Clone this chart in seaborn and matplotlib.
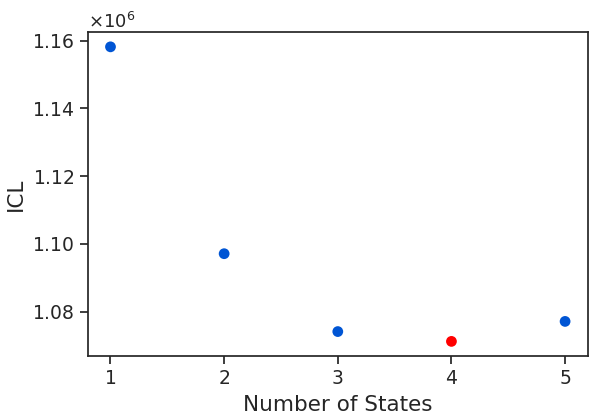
import numpy as np
import pandas as pd
import matplotlib
matplotlib.use("Agg")
import matplotlib.pyplot as plt
import matplotlib.ticker as mticker
import seaborn as sns

# --- Data ---
n_states = [1, 2, 3, 4, 5]
icl = [1158200, 1097100, 1074100, 1071200, 1077100]
best = 4

df = pd.DataFrame({"n_states": n_states, "icl": icl})
df["is_best"] = df["n_states"] == best

# --- Plot ---
sns.set_theme(style="ticks")
plt.rcParams["font.family"] = ["DejaVu Sans"]

fig = plt.figure(figsize=(5.89, 4.17), dpi=100)
ax = fig.add_axes([0.149, 0.146, 0.849, 0.777])

sns.scatterplot(data=df, x="n_states", y="icl", hue="is_best",
                palette={False: "#0055d4", True: "#ff0000"},
                s=60, linewidth=0, legend=False, ax=ax)

ax.set_xticks(n_states)
fmt = mticker.ScalarFormatter(useMathText=True)
ax.yaxis.set_major_formatter(fmt)
ax.set_xlabel("Number of States", fontsize=15.5, color="#262626", labelpad=5)
ax.set_ylabel("ICL", fontsize=15.5, color="#262626")
ax.tick_params(labelsize=13.5, length=6, width=1.25, colors="#262626")
ax.yaxis.get_offset_text().set_fontsize(13)
for sp in ax.spines.values():
    sp.set_linewidth(1.25)
    sp.set_color("#262626")

fig.savefig("out.png", dpi=100)
